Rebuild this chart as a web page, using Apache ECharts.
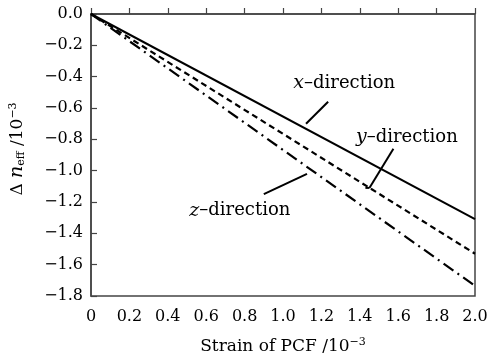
<!DOCTYPE html>
<html><head><meta charset="utf-8">
<script src="https://cdn.jsdelivr.net/npm/echarts@6/dist/echarts.min.js"></script>
<style>html,body{margin:0;padding:0;background:#fff}#c{width:491px;height:360px}</style>
</head><body><div id="c"></div>
<script>
// Data (strain ×10^-3 vs Δn_eff ×10^-3)
const strain = [0, 2.0];
const xDirection = [0, -1.31];
const yDirection = [0, -1.53];
const zDirection = [0, -1.735];
const xTicks = ['0','0.2','0.4','0.6','0.8','1.0','1.2','1.4','1.6','1.8','2.0'];
const yTicks = ['0.0','−0.2','−0.4','−0.6','−0.8','−1.0','−1.2','−1.4','−1.6','−1.8'];

const FONT = '"DejaVu Serif", "Liberation Serif", serif';
const chart = echarts.init(document.getElementById('c'));
const pairs = arr => strain.map((s, i) => [s, arr[i]]);
const lineStyle = (type, w) => ({color: '#000', width: w, type: type});

chart.setOption({
  animation: false,
  backgroundColor: '#fff',
  grid: {left: 88, top: 14, right: 16, bottom: 64, show: true, borderColor: '#444', borderWidth: 1.5},
  xAxis: {
    type: 'value', min: 0, max: 2.0, interval: 0.2,
    axisLine: {lineStyle: {color: '#444', width: 1.5}},
    axisTick: {inside: true, length: 6, lineStyle: {color: '#444', width: 1.2}},
    splitLine: {show: false},
    axisLabel: {color: '#000', fontFamily: FONT, fontSize: 16, margin: 13,
      formatter: v => xTicks[Math.round(v / 0.2)]},
    name: 'Strain of PCF /10{sup|−3}', nameLocation: 'middle', nameGap: 41,
    nameTextStyle: {color: '#000', fontFamily: FONT, fontSize: 17,
      rich: {sup: {fontFamily: FONT, fontSize: 11, verticalAlign: 'top', padding: [0,0,8,0], color: '#000'}}}
  },
  yAxis: {
    type: 'value', min: -1.8, max: 0, interval: 0.2,
    axisLine: {lineStyle: {color: '#444', width: 1.5}},
    axisTick: {inside: true, length: 6, lineStyle: {color: '#444', width: 1.2}},
    splitLine: {show: false},
    axisLabel: {color: '#000', fontFamily: FONT, fontSize: 16, margin: 8,
      formatter: v => yTicks[Math.round(-v / 0.2)]},
    name: 'Δ {it|n}{sub|eff} /10{sup|−3}', nameLocation: 'middle', nameGap: 64, nameRotate: 90,
    nameTextStyle: {color: '#000', fontFamily: FONT, fontSize: 17, padding: [0, 0, 0, 12],
      rich: {
        it: {fontFamily: FONT, fontStyle: 'italic', fontSize: 19, color: '#000'},
        sub: {fontFamily: FONT, fontSize: 11, color: '#000', padding: [8,0,0,0]},
        sup: {fontFamily: FONT, fontSize: 11, color: '#000', padding: [0,0,8,0]}
      }}
  },
  series: [
    {type: 'line', name: 'x', data: pairs(xDirection), symbol: 'none', lineStyle: lineStyle('solid', 2)},
    {type: 'line', name: 'y', data: pairs(yDirection), symbol: 'none', lineStyle: lineStyle([6, 4], 2.2)},
    {type: 'line', name: 'z', data: pairs(zDirection), symbol: 'none', lineStyle: lineStyle([12, 5, 2, 5], 2.2)}
  ]
});

// Annotations placed in data coordinates
const annotations = [
  {label: 'x', text: [1.054, -0.442], from: [1.12, -0.70], to: [1.235, -0.56]},
  {label: 'y', text: [1.380, -0.788], from: [1.45, -1.11], to: [1.575, -0.86]},
  {label: 'z', text: [0.512, -1.256], from: [0.90, -1.15], to: [1.125, -1.02]}
];
const px = p => chart.convertToPixel({gridIndex: 0}, p);
const graphics = [];
annotations.forEach(a => {
  const f = px(a.from), t = px(a.to), tp = px(a.text);
  graphics.push({type: 'line', shape: {x1: f[0], y1: f[1], x2: t[0], y2: t[1]}, style: {stroke: '#000', lineWidth: 2}});
  graphics.push({type: 'text', x: tp[0], y: tp[1], style: {
    text: '{i|' + a.label + '}–direction', fill: '#000', font: '18px ' + FONT,
    verticalAlign: 'middle', align: 'left',
    rich: {i: {fontFamily: FONT, fontStyle: 'italic', fontSize: 19, fill: '#000'}}
  }});
});
// small hook at bottom of y-direction leader
const yf = px(annotations[1].from);
graphics.push({type: 'line', shape: {x1: yf[0] - 4, y1: yf[1], x2: yf[0], y2: yf[1]}, style: {stroke: '#000', lineWidth: 2}});
chart.setOption({graphic: graphics});
</script></body></html>
